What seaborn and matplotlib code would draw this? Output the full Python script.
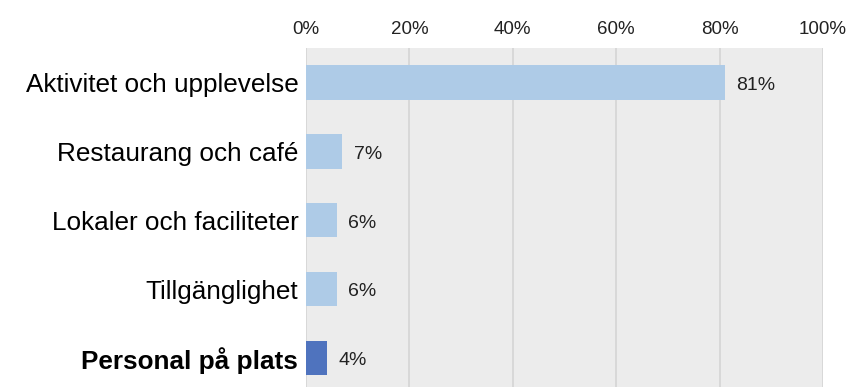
import matplotlib
matplotlib.use("Agg")
import matplotlib.pyplot as plt
import seaborn as sns
import pandas as pd

categories = ["Aktivitet och upplevelse", "Restaurang och café", "Lokaler och faciliteter",
              "Tillgänglighet", "Personal på plats"]
values = [81, 7, 6, 6, 4]
value_labels = ["81%", "7%", "6%", "6%", "4%"]
xticks = [0, 20, 40, 60, 80, 100]
xtick_labels = ["0%", "20%", "40%", "60%", "80%", "100%"]
colors = ["#aecbe7", "#aecbe7", "#aecbe7", "#aecbe7", "#4f73be"]

sns.set_theme(style="white")
plt.rcParams['font.family'] = ['Liberation Sans', 'DejaVu Sans']

df = pd.DataFrame({"cat": categories, "val": values})

fig = plt.figure(figsize=(8.54, 3.87), dpi=100)
ax = fig.add_axes([306/854, 0, 517/854, 339/387])
ax.set_facecolor("#ececec")

sns.barplot(data=df, x="val", y="cat", hue="cat", palette=colors, legend=False,
            width=0.5, ax=ax, saturation=1, zorder=3, linewidth=0)

ax.set_xlim(0, 100)
ax.set_ylim(4.42, -0.5)
ax.set_xticks(xticks)
ax.set_xticklabels(xtick_labels, fontsize=13.5, color="#222222")
ax.xaxis.tick_top()
ax.tick_params(axis="x", length=0, pad=7.5)
ax.tick_params(axis="y", length=0, pad=5.5)
ax.set_yticks(range(len(categories)))
ax.set_yticklabels(categories, fontsize=18.8, color="black")
for lbl in ax.get_yticklabels():
    if lbl.get_text() == "Personal på plats":
        lbl.set_fontweight("bold")
ax.set_xlabel("")
ax.set_ylabel("")
ax.grid(axis="x", color="#d4d4d4", linewidth=1.2, zorder=0)
ax.set_axisbelow(True)
for s in ax.spines.values():
    s.set_visible(False)

for i, (v, t) in enumerate(zip(values, value_labels)):
    ax.text(v + 2.2, i + 0.04, t, va="center", ha="left", fontsize=14, color="#222222")

fig.savefig("out.png", dpi=100)
